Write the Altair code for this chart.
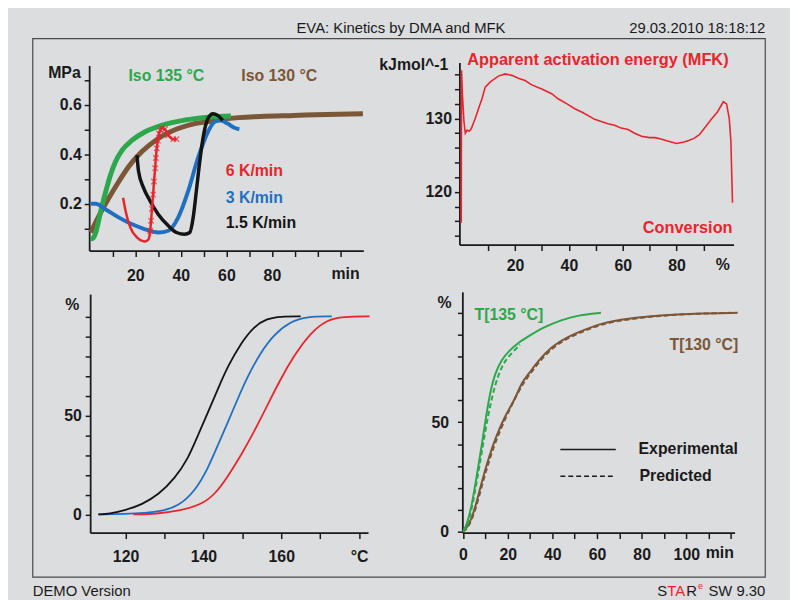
import altair as alt
import pandas as pd

# ---------------- data ----------------
# Top-left: DMA modulus (MPa) vs time (min)
iso135_min = [0.4, 1.5, 2.6, 3.7, 4.8, 7.0, 9.1, 11.3, 14.2, 18.6, 24.3, 31.6, 38.8, 46.1, 53.3, 62.0]
iso135_mpa = [0.057, 0.062, 0.084, 0.125, 0.171, 0.250, 0.317, 0.371, 0.417, 0.457, 0.491, 0.517, 0.533, 0.544, 0.551, 0.555]
iso130_min = [0.4, 4.0, 8.4, 12.8, 17.1, 22.9, 30.1, 38.8, 46.1, 53.3, 60.6, 75.0, 89.6, 104.0, 120.0]
iso130_mpa = [0.084, 0.151, 0.224, 0.291, 0.351, 0.411, 0.464, 0.504, 0.524, 0.533, 0.544, 0.553, 0.557, 0.561, 0.564]
k3_min = [0.4, 2.6, 7.0, 12.8, 18.6, 24.3, 30.1, 34.5, 38.8, 43.2, 47.5, 51.9, 54.8, 57.0, 60.6, 63.5, 65.7]
k3_mpa = [0.200, 0.200, 0.177, 0.144, 0.117, 0.097, 0.084, 0.091, 0.144, 0.251, 0.384, 0.491, 0.531, 0.537, 0.524, 0.507, 0.501]
k15_min = [20.7, 21.4, 23.6, 26.5, 30.1, 34.5, 38.1, 41.7, 43.9, 45.4, 46.8, 48.3, 49.7, 51.9, 54.1, 56.2, 58.4]
k15_mpa = [0.397, 0.331, 0.264, 0.211, 0.157, 0.111, 0.084, 0.077, 0.084, 0.144, 0.251, 0.371, 0.464, 0.544, 0.564, 0.557, 0.537]
k6_min = [14.6, 15.7, 17.8, 20.7, 23.0, 24.3, 25.8, 26.5, 26.9, 27.3, 27.8, 28.2, 28.7, 29.0, 29.4, 29.9, 30.4, 31.0, 31.6, 33.0, 34.5, 36.7, 38.1]
k6_mpa = [0.224, 0.171, 0.104, 0.064, 0.050, 0.048, 0.057, 0.090, 0.131, 0.180, 0.237, 0.290, 0.344, 0.385, 0.424, 0.455, 0.484, 0.497, 0.507, 0.501, 0.477, 0.461, 0.461]

# Top-right: apparent activation energy (kJ/mol) vs conversion (%)
conv_pct = [0.0, 0.1, 0.4, 1.0, 1.5, 2.1, 3.0, 3.7, 5.2, 6.4,
            7.7, 8.9, 10.8, 13.8, 16.3, 18.8, 21.2, 23.7, 26.2, 29.9,
            33.6, 36.0, 39.3, 42.2, 45.3, 49.6, 52.0, 54.5, 57.0, 59.4,
            62.0, 64.4, 67.0, 69.9, 72.0, 74.2, 77.0, 80.0, 82.8, 84.5,
            86.5, 88.5, 90.2, 92.7, 95.2, 97.4, 98.6, 99.6, 100.2, 100.8]
conv_kj = [115.8, 136.6, 133.5, 129.6, 128.0, 128.4, 128.3, 128.6, 130.0, 131.35,
           132.7, 134.3, 135.0, 135.8, 136.1, 135.9, 135.5, 135.2, 134.6, 134.05,
           133.4, 132.7, 132.0, 131.35, 130.8, 129.9, 129.6, 129.3, 129.1, 128.7,
           128.5, 128.0, 127.6, 127.4, 127.4, 127.2, 126.9, 126.6, 126.8, 127.0,
           127.3, 127.8, 128.6, 129.8, 130.9, 132.3, 132.0, 130.0, 126.9, 118.5]

# Bottom-left: conversion (%) vs temperature (°C)
b15_T = [113.0, 115.8, 120.0, 124.2, 128.5, 132.7, 136.1, 138.6, 141.2, 143.7, 146.3, 149.7, 153.0, 156.4, 159.8, 165.0]
b15_C = [0.0, 0.3, 2.2, 5.0, 10.0, 18.3, 28.3, 40.0, 51.7, 63.3, 75.0, 86.7, 95.0, 99.0, 100.0, 100.0]
b3_T = [113.0, 120.0, 125.0, 129.3, 133.6, 137.8, 141.2, 143.7, 146.3, 148.8, 151.4, 154.7, 158.1, 162.4, 166.6, 173.0]
b3_C = [0.0, 0.2, 0.7, 1.7, 4.2, 11.7, 23.3, 35.0, 46.7, 58.3, 70.0, 81.7, 90.8, 97.5, 100.0, 100.0]
b6_T = [122.0, 128.0, 133.6, 139.5, 142.9, 146.3, 149.7, 153.0, 156.4, 159.8, 163.2, 167.5, 171.7, 175.9, 182.7]
b6_C = [0.0, 0.3, 1.7, 5.0, 10.0, 19.2, 30.0, 41.7, 55.0, 68.3, 80.0, 91.7, 98.3, 100.0, 100.0]

# Bottom-right: conversion (%) vs time (min), experimental and predicted
g_exp_t = [0.0, 1.8, 4.0, 6.2, 8.4, 9.9, 12.1, 14.4, 17.3, 20.3, 25.5, 29.2, 36.6, 44.0, 51.4, 61.8]
g_exp_c = [0.0, 3.3, 12.3, 25.9, 39.5, 50.0, 63.6, 72.6, 78.6, 82.4, 86.9, 89.2, 93.7, 96.7, 98.9, 100.0]
g_pred_t = [0.0, 2.0, 4.0, 6.2, 8.4, 11.4, 14.4, 17.3, 20.3, 25.5]
g_pred_c = [0.0, 2.5, 10.8, 23.0, 36.4, 54.5, 67.5, 75.5, 80.1, 85.4]
br_exp_t = [0.0, 2.5, 5.5, 8.4, 11.4, 14.4, 18.8, 23.3, 26.2, 29.2, 33.6, 39.6, 47.0, 54.4, 61.8, 73.6, 88.4, 103.3, 123.0]
br_exp_c = [0.0, 2.6, 10.8, 22.9, 33.4, 42.5, 53.0, 60.5, 68.1, 71.8, 77.9, 84.6, 89.2, 92.2, 95.2, 97.4, 98.9, 99.7, 100.0]
br_pred_t = [0.0, 2.5, 5.5, 8.4, 11.4, 14.4, 18.8, 23.3, 26.2, 29.2, 33.6, 39.6, 47.0, 54.4, 61.8, 73.6, 88.4, 103.3, 120.0]
br_pred_c = [0.0, 2.0, 9.5, 21.0, 31.5, 40.8, 51.5, 61.0, 66.5, 71.0, 77.0, 83.8, 88.6, 91.7, 94.8, 97.1, 98.7, 99.6, 100.0]

# ---------------- styling ----------------
W, H = 790, 592
FONT = "Liberation Sans"
BG = "#dcdddf"
INK = "#1a1a1a"
GREEN = "#2ca84c"
BROWN = "#7b5637"
RED = "#e8252d"
BLUE = "#1f70c1"
BLACK = "#141414"


def xaxis(values, expr, y_px, pad):
    return alt.Axis(orient="bottom", offset=y_px - H, values=values, labelExpr=expr, title=None,
                    grid=False, tickSize=6, tickWidth=1.5, tickColor=INK, domainColor=INK,
                    domainWidth=1.8, labelFont=FONT, labelFontSize=16, labelFontWeight="bold",
                    labelColor=INK, labelPadding=pad, labelFlush=False, labelOverlap=False)


def yaxis(values, expr, x_px, pad):
    return alt.Axis(orient="left", offset=-x_px, values=values, labelExpr=expr, title=None,
                    grid=False, tickSize=5, tickWidth=1.5, tickColor=INK, domainColor=INK,
                    domainWidth=1.8, labelFont=FONT, labelFontSize=16, labelFontWeight="bold",
                    labelColor=INK, labelPadding=pad, labelFlush=False, labelOverlap=False)


def line(xv, yv, xs, ys, color, width, dash=None, xa=None, ya=None, interp="monotone"):
    df = pd.DataFrame({"x": xv, "y": yv})
    kw = dict(color=color, strokeWidth=width, interpolate=interp, clip=False)
    if dash:
        kw["strokeDash"] = dash
    return alt.Chart(df).mark_line(**kw).encode(
        x=alt.X("x:Q", scale=xs, axis=xa),
        y=alt.Y("y:Q", scale=ys, axis=ya),
    )


def label(text, x, y, color=INK, size=16, weight="bold", align="center", baseline="middle", dy=0):
    return alt.Chart(pd.DataFrame({"t": [text]})).mark_text(
        text=text, font=FONT, fontSize=size, fontWeight=weight, color=color,
        align=align, baseline=baseline, dy=dy,
    ).encode(x=alt.value(x), y=alt.value(y))


def hrule(x1, x2, y, dash=None):
    kw = dict(color=INK, strokeWidth=1.6)
    if dash:
        kw["strokeDash"] = dash
    return alt.Chart(pd.DataFrame({"t": [0]})).mark_rule(**kw).encode(
        x=alt.value(x1), x2=alt.value(x2), y=alt.value(y))


layers = []

# frame
layers.append(alt.Chart(pd.DataFrame({"t": [0]})).mark_rect(
    fillOpacity=0, stroke="#4a4a4a", strokeWidth=1.2).encode(
    x=alt.value(25), x2=alt.value(765), y=alt.value(28), y2=alt.value(572)))

# ---- Top-left panel ----
tl_x = alt.Scale(domain=[-0.3, 120.2], range=[82, 359], zero=False, nice=False)
tl_y = alt.Scale(domain=[0.011, 0.759], range=[242, 55], zero=False, nice=False)
tl_xa = xaxis(list(range(10, 120, 10)), "datum.value % 20 == 0 && datum.value <= 80 ? datum.label : ''", 242, 11)
tl_ya = yaxis([0.1, 0.2, 0.3, 0.4, 0.5, 0.6, 0.7],
              "(datum.value == 0.2 || datum.value == 0.4 || datum.value == 0.6) ? format(datum.value, '.1f') : ''", 82, 3)
layers.append(line(iso130_min, iso130_mpa, tl_x, tl_y, BROWN, 5, xa=tl_xa, ya=tl_ya))
layers.append(line(iso135_min, iso135_mpa, tl_x, tl_y, GREEN, 5))
layers.append(line(k3_min, k3_mpa, tl_x, tl_y, BLUE, 4))
layers.append(line(k15_min, k15_mpa, tl_x, tl_y, BLACK, 3.5))
layers.append(line(k6_min, k6_mpa, tl_x, tl_y, RED, 2.5))
mk = pd.DataFrame({"x": k6_min, "y": k6_mpa})
mk = mk[(mk.x >= 26.5)]
layers.append(alt.Chart(mk).mark_point(
    shape="M-1,-1L1,1M-1,1L1,-1", size=30, filled=False, color=RED, strokeWidth=1.3, clip=False).encode(
    x=alt.X("x:Q", scale=tl_x, axis=None), y=alt.Y("y:Q", scale=tl_y, axis=None)))
layers += [
    label("MPa", 57, 63),
    label("Iso 135 °C", 160, 66, GREEN),
    label("Iso 130 °C", 274, 66, BROWN),
    label("6 K/min", 220, 162, RED, align="left"),
    label("3 K/min", 220, 189, BLUE, align="left"),
    label("1.5 K/min", 220, 214, BLACK, align="left"),
    label("min", 341, 266),
]

# ---- Top-right panel ----
tr_x = alt.Scale(domain=[-0.7, 101.2], range=[456, 733], zero=False, nice=False)
tr_y = alt.Scale(domain=[112.8, 137.66], range=[236, 52], zero=False, nice=False)
tr_xa = xaxis(list(range(10, 100, 10)), "datum.value % 20 == 0 ? datum.label : ''", 236, 7)
tr_ya = yaxis(list(range(114, 138, 2)), "datum.value % 10 == 0 ? datum.label : ''", 456, 3)
layers.append(line(conv_pct, conv_kj, tr_x, tr_y, RED, 1.6, xa=tr_xa, ya=tr_ya, interp="linear"))
layers += [
    label("kJmol^-1", 410, 55),
    label("Apparent activation energy (MFK)", 464, 50, RED, size=16.5, align="left"),
    label("Conversion", 732, 219, RED, size=16.5, align="right"),
    label("%", 722, 257),
]

# ---- Bottom-left panel ----
bl_x = alt.Scale(domain=[110.9, 182.3], range=[83, 363.7], zero=False, nice=False)
bl_y = alt.Scale(domain=[-9.2, 111.3], range=[527, 286], zero=False, nice=False)
bl_xa = xaxis(list(range(120, 190, 10)),
              "datum.value == 180 ? '°C' : (datum.value % 20 == 0 ? datum.label : '')", 527, 10)
bl_ya = yaxis(list(range(0, 110, 10)), "(datum.value == 0 || datum.value == 50) ? datum.label : ''", 83, 4)
layers.append(line(b6_T, b6_C, bl_x, bl_y, RED, 1.8, xa=bl_xa, ya=bl_ya, interp="basis"))
layers.append(line(b3_T, b3_C, bl_x, bl_y, BLUE, 1.8, interp="basis"))
layers.append(line(b15_T, b15_C, bl_x, bl_y, BLACK, 1.8, interp="basis"))
layers.append(label("%", 65, 297))

# ---- Bottom-right panel ----
br_x = alt.Scale(domain=[-0.3, 121.6], range=[459, 734], zero=False, nice=False)
br_y = alt.Scale(domain=[-0.45, 109.6], range=[527, 283.7], zero=False, nice=False)
br_xa = xaxis(list(range(0, 130, 10)), "datum.value % 20 == 0 && datum.value <= 100 ? datum.label : ''", 527, 8)
br_ya = yaxis(list(range(0, 110, 10)), "(datum.value == 0 || datum.value == 50) ? datum.label : ''", 459, 9)
layers.append(line(br_exp_t, br_exp_c, br_x, br_y, BROWN, 2, xa=br_xa, ya=br_ya, interp="basis"))
layers.append(line(br_pred_t, br_pred_c, br_x, br_y, BROWN, 2, dash=[5, 3], interp="basis"))
layers.append(line(g_exp_t, g_exp_c, br_x, br_y, GREEN, 2, interp="basis"))
layers.append(line(g_pred_t, g_pred_c, br_x, br_y, GREEN, 2, dash=[5, 3], interp="basis"))
layers += [
    label("%", 441, 295),
    label("T[135 °C]", 506, 307, GREEN),
    label("T[130 °C]", 703, 337, BROWN),
    label("min", 719, 548),
    hrule(558, 614, 443),
    hrule(558, 614, 470, dash=[5, 3]),
    label("Experimental", 637, 443, align="left"),
    label("Predicted", 638, 470, align="left"),
]

# ---- header / footer ----
layers += [
    label("EVA: Kinetics by DMA and MFK", 397, 22, weight="normal", size=15, baseline="alphabetic"),
    label("29.03.2010 18:18:12", 765, 22, weight="normal", size=15, align="right", baseline="alphabetic"),
    label("DEMO Version", 25, 591, weight="normal", size=15, align="left", baseline="alphabetic"),
    label("S", 656, 591, weight="normal", size=15, align="left", baseline="alphabetic"),
    label("TA", 666, 591, RED, weight="normal", size=15, align="left", baseline="alphabetic"),
    label("R", 685.2, 591, weight="normal", size=15, align="left", baseline="alphabetic"),
    label("e", 697, 584, RED, weight="normal", size=9, align="left", baseline="alphabetic"),
    label("SW 9.30", 765, 591, weight="normal", size=15, align="right", baseline="alphabetic"),
]

chart = alt.layer(*layers).resolve_scale(x="independent", y="independent").properties(
    width=W, height=H, padding=0, autosize=alt.AutoSizeParams(type="none")
).configure(background=BG).configure_view(stroke=None)

chart.save("out.html", embed_options={"renderer": "svg", "actions": False})
